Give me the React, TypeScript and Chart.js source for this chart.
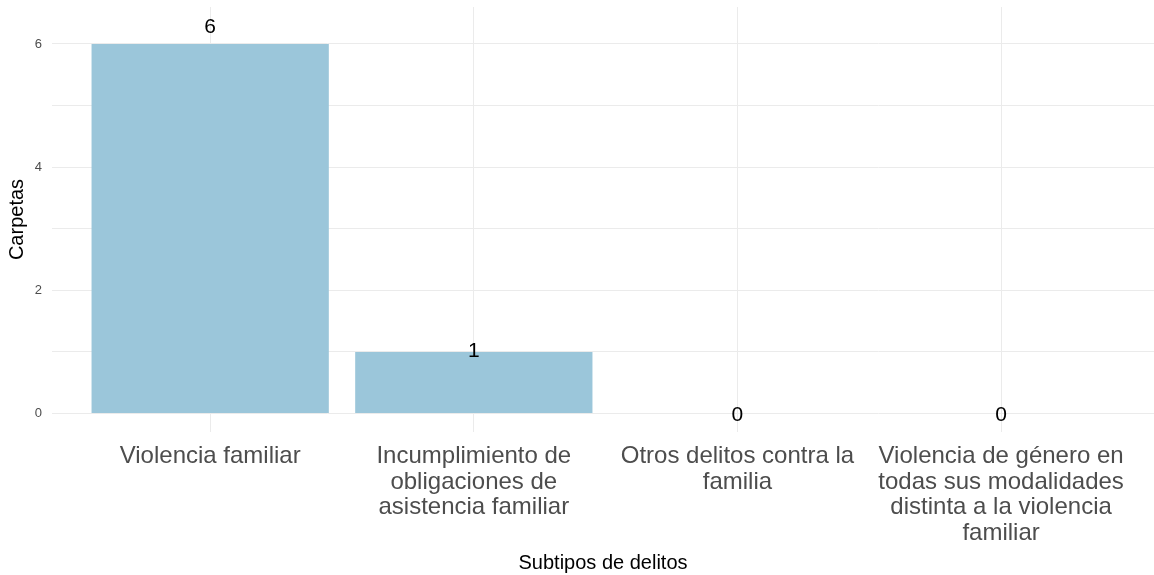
import React, { useEffect, useRef } from "react";
import { Chart, registerables } from "chart.js";

Chart.register(...registerables);

const categories = [
  "Violencia familiar",
  "Incumplimiento de obligaciones de asistencia familiar",
  "Otros delitos contra la familia",
  "Violencia de género en todas sus modalidades distinta a la violencia familiar",
];
const categoryLines = [
  ["Violencia familiar"],
  ["Incumplimiento de", "obligaciones de", "asistencia familiar"],
  ["Otros delitos contra la", "familia"],
  ["Violencia de género en", "todas sus modalidades", "distinta a la violencia", "familiar"],
];
const carpetas = [6, 1, 0, 0];
const yTickValues = [0, 1, 2, 3, 4, 5, 6];
const yLabelValues = [0, 2, 4, 6];
const xTitle = "Subtipos de delitos";
const yTitle = "Carpetas";

const FONT = "'Liberation Sans', Arial, sans-serif";

const valueLabels = {
  id: "valueLabels",
  afterDatasetsDraw(chart: any) {
    const ctx = chart.ctx;
    const meta = chart.getDatasetMeta(0);
    const ys = chart.scales.y;
    ctx.save();
    ctx.font = `21px ${FONT}`;
    ctx.fillStyle = "#000000";
    ctx.textAlign = "center";
    ctx.textBaseline = "middle";
    meta.data.forEach((el: any, i: number) => {
      const v = carpetas[i];
      const y = ys.getPixelForValue(v * 1.05) + 2;
      ctx.fillText(String(v), el.x, y);
    });
    ctx.restore();
  },
};

export default function App() {
  const ref = useRef<HTMLCanvasElement>(null);
  useEffect(() => {
    document.body.style.margin = "0";
    const chart = new Chart(ref.current as HTMLCanvasElement, {
      type: "bar",
      data: {
        datasets: [
          {
            data: carpetas.map((v, i) => ({ x: i + 1, y: v })),
            backgroundColor: "#9BC6DA",
            borderWidth: 0,
            barPercentage: 0.9,
            categoryPercentage: 1,
          },
        ],
      },
      options: {
        animation: false,
        responsive: false,
        maintainAspectRatio: false,
        layout: { padding: { top: 7, left: 0, right: 0, bottom: 0 } },
        plugins: { legend: { display: false }, tooltip: { enabled: false } },
        scales: {
          x: {
            type: "linear",
            min: 0.4,
            max: 4.58,
            offset: false,
            afterBuildTicks: (s: any) => {
              s.ticks = categories.map((_, i) => ({ value: i + 1 }));
            },
            afterFit: (s: any) => {
              s.height = 143;
              s.paddingLeft = 0;
              s.paddingRight = 0;
            },
            grid: { color: "#ebebeb", lineWidth: 1, drawTicks: false, offset: false },
            border: { display: false },
            ticks: {
              autoSkip: false,
              maxRotation: 0,
              minRotation: 0,
              padding: 11,
              color: "#4d4d4d",
              font: { family: FONT, size: 24, lineHeight: 1.08 },
              callback: (v: any) => categoryLines[Math.round(Number(v)) - 1] ?? "",
            },
            title: {
              display: true,
              text: xTitle,
              color: "#000000",
              font: { family: FONT, size: 20 },
              padding: { top: 0, bottom: 0 },
            },
          },
          y: {
            type: "linear",
            min: -0.3,
            max: 6.6,
            afterBuildTicks: (s: any) => {
              s.ticks = yTickValues.map((v) => ({ value: v }));
            },
            afterFit: (s: any) => {
              s.width = 52;
              s.paddingTop = 0;
              s.paddingBottom = 0;
            },
            grid: { color: "#ebebeb", lineWidth: 1, drawTicks: false },
            border: { display: false },
            ticks: {
              padding: 10,
              color: "#4d4d4d",
              font: { family: FONT, size: 13 },
              callback: (v: any) => (yLabelValues.includes(Number(v)) ? String(v) : ""),
            },
            title: {
              display: true,
              text: yTitle,
              color: "#000000",
              font: { family: FONT, size: 20 },
              padding: { top: 5, bottom: 0 },
            },
          },
        },
      },
      plugins: [valueLabels],
    });
    return () => chart.destroy();
  }, []);
  return (
    <div style={{ position: "absolute", left: 0, top: 0, width: 1154, height: 575, background: "#fff" }}>
      <canvas ref={ref} width={1154} height={575} style={{ display: "block" }} />
    </div>
  );
}
